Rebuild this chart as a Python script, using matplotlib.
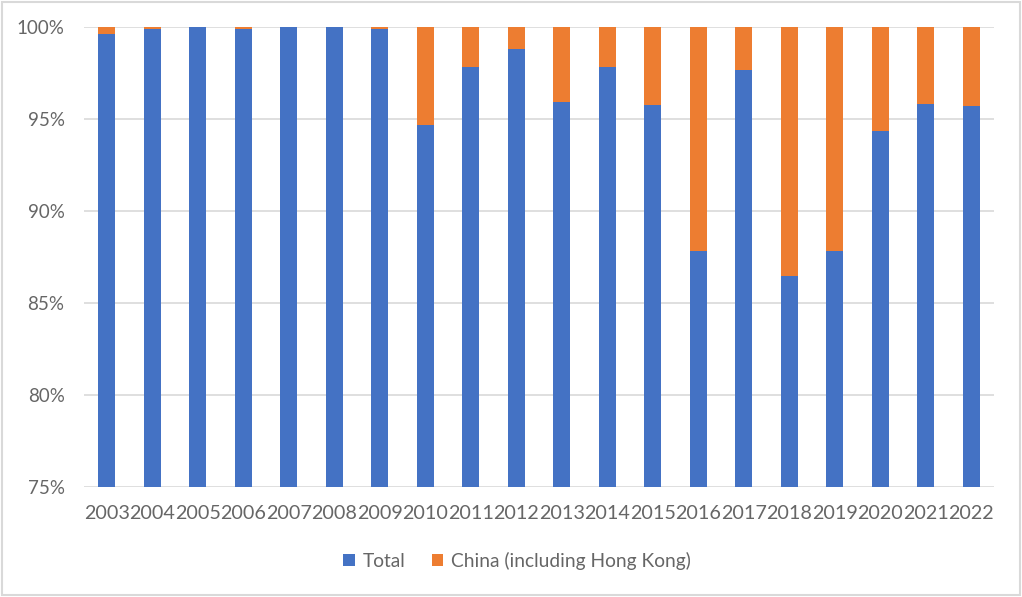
import numpy as np
import matplotlib.pyplot as plt
from matplotlib.patches import Rectangle

years = [str(y) for y in range(2003, 2023)]
total = [99.6, 99.9, 100.0, 99.9, 100.0, 100.0, 99.9, 94.7, 97.85, 98.8,
         95.9, 97.85, 95.75, 87.85, 97.65, 86.45, 87.8, 94.35, 95.8, 95.7]
china = [0.4, 0.1, 0.0, 0.1, 0.0, 0.0, 0.1, 5.3, 2.15, 1.2,
         4.1, 2.15, 4.25, 12.15, 2.35, 13.55, 12.2, 5.65, 4.2, 4.3]
yticks = [75, 80, 85, 90, 95, 100]

blue = "#4472C4"
orange = "#ED7D31"
grey_text = "#666666"

plt.rcParams['font.family'] = ['Lato', 'DejaVu Sans']

fig = plt.figure(figsize=(10.22, 5.97), dpi=100)
ax = fig.add_axes([84 / 1022, 1 - 487 / 597, 910 / 1022, 460 / 597])

x = np.arange(len(years))
ax.bar(x, total, width=0.38, color=blue, label="Total", zorder=2)
ax.bar(x, china, width=0.38, bottom=total, color=orange,
       label="China (including Hong Kong)", zorder=2)

ax.set_xlim(-0.5, len(years) - 0.5)
ax.set_ylim(75, 100)
ax.set_yticks(yticks)
ax.set_yticklabels(["{}%".format(v) for v in yticks])
ax.set_xticks(x)
ax.set_xticklabels(years)
ax.tick_params(length=0, colors=grey_text)
ax.tick_params(axis='x', pad=13, labelsize=14.2)
ax.tick_params(axis='y', pad=14, labelsize=13.5)
ax.yaxis.grid(True, color="#d9d9d9", linewidth=1.2, zorder=0)
for s in ax.spines.values():
    s.set_visible(False)

leg = fig.legend(loc='center', bbox_to_anchor=(517 / 1022, 1 - 561 / 597),
                 ncol=2, frameon=False, fontsize=13.8, handlelength=0.6,
                 handleheight=0.6, handletextpad=0.4, columnspacing=1.4)
for t in leg.get_texts():
    t.set_color(grey_text)

# light frame around the chart
fig.patches.append(Rectangle((0.002, 0.003), 0.996, 0.994, transform=fig.transFigure,
                             fill=False, edgecolor="#d9d9d9", linewidth=1.5))

fig.savefig("out.png", dpi=100)
